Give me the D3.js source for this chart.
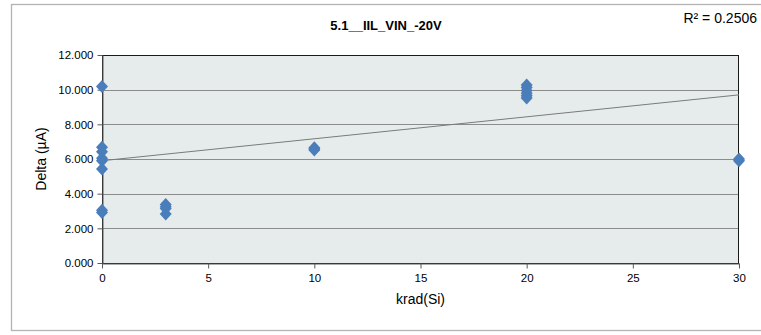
<!DOCTYPE html>
<html><head><meta charset="utf-8">
<script src="https://cdn.jsdelivr.net/npm/d3@7"></script>
<style>
html,body{margin:0;padding:0;background:#fff;}
svg{display:block;font-family:"Liberation Sans",Arial,sans-serif;}
</style></head>
<body><svg id="c" width="761" height="335"></svg>
<script>
// ---- data ----
const title = "5.1__IIL_VIN_-20V";
const rSquaredLabel = "R² = 0.2506";
const xLabel = "krad(Si)";
const yLabel = "Delta (µA)";
const doseValues  = [0,0,0,0,0,0,0,0, 3,3,3,3, 10,10,10, 20,20,20,20,20,20, 30,30];
const deltaValues = [10.18,6.68,6.42,6.05,5.9,5.42,3.05,2.92, 3.38,3.25,3.15,2.83, 6.65,6.58,6.52, 10.27,10.12,9.95,9.8,9.65,9.52, 6.0,5.9];
const trendX = [0, 30];
const trendY = [5.9, 9.7];
const xTicks = [0,5,10,15,20,25,30];
const yTicks = [0,2,4,6,8,10,12];

const svg = d3.select("#c");
const L = 102, R = 739, T = 55, B = 263;
const x = d3.scaleLinear().domain([0,30]).range([L,R]);
const y = d3.scaleLinear().domain([0,12]).range([B,T]);

// outer chart frame
svg.append("rect").attr("x",11.5).attr("y",4.5).attr("width",770).attr("height",326)
  .attr("fill","#fff").attr("stroke","#b3b3b3").attr("stroke-width",1.3);

// plot area
svg.append("rect").attr("x",L).attr("y",T).attr("width",R-L).attr("height",B-T)
  .attr("fill","#e6ecec");

// gridlines
svg.append("g").selectAll("line").data(yTicks.filter(d=>d>0 && d<12)).join("line")
  .attr("x1",L).attr("x2",R).attr("y1",d=>Math.round(y(d))+0.5).attr("y2",d=>Math.round(y(d))+0.5)
  .attr("stroke","#8c8c8c").attr("stroke-width",1);

// plot border
svg.append("rect").attr("x",L+0.5).attr("y",T+0.5).attr("width",R-L-1).attr("height",B-T)
  .attr("fill","none").attr("stroke","#1a1a1a").attr("stroke-width",1);

// axes
const yAxis = d3.axisLeft(y).tickValues(yTicks).tickFormat(d3.format(".3f")).tickSize(5).tickSizeOuter(0);
const gy = svg.append("g").attr("transform",`translate(${L+0.5},0)`).call(yAxis);
gy.select(".domain").attr("stroke","#595959");
gy.selectAll(".tick line").attr("stroke","#595959");
gy.selectAll("text").attr("font-size",11.5).attr("fill","#000").attr("font-family","Liberation Sans, Arial, sans-serif").attr("x",-9);

const xAxis = d3.axisBottom(x).tickValues(xTicks).tickSize(5).tickSizeOuter(0);
const gx = svg.append("g").attr("transform",`translate(0,${B+0.5})`).call(xAxis);
gx.select(".domain").attr("stroke","#595959");
gx.selectAll(".tick line").attr("stroke","#595959");
gx.selectAll("text").attr("font-size",11.5).attr("fill","#000").attr("font-family","Liberation Sans, Arial, sans-serif").attr("y",10);

// trendline
svg.append("path")
  .datum(trendX.map((d,i)=>[d,trendY[i]]))
  .attr("d", d3.line().x(d=>x(d[0])).y(d=>y(d[1])))
  .attr("fill","none").attr("stroke","#7a7a7a").attr("stroke-width",1);

// markers
const diamond = "M0,-6.5L6,0L0,6.5L-6,0Z";
svg.append("g").selectAll("path").data(doseValues.map((d,i)=>[d,deltaValues[i]])).join("path")
  .attr("d",diamond)
  .attr("transform",d=>`translate(${x(d[0])},${y(d[1])})`)
  .attr("fill","#4a7ebb");

// texts
svg.append("text").attr("x",386).attr("y",30).attr("text-anchor","middle")
  .attr("font-size",13).attr("font-weight","bold").text(title);
svg.append("text").attr("x",757).attr("y",23).attr("text-anchor","end")
  .attr("font-size",14).text(rSquaredLabel);
svg.append("text").attr("x",(L+R)/2).attr("y",304).attr("text-anchor","middle")
  .attr("font-size",14).text(xLabel);
svg.append("text").attr("transform",`translate(46,${(T+B)/2}) rotate(-90)`).attr("text-anchor","middle")
  .attr("font-size",14).text(yLabel);
</script>
</body></html>
